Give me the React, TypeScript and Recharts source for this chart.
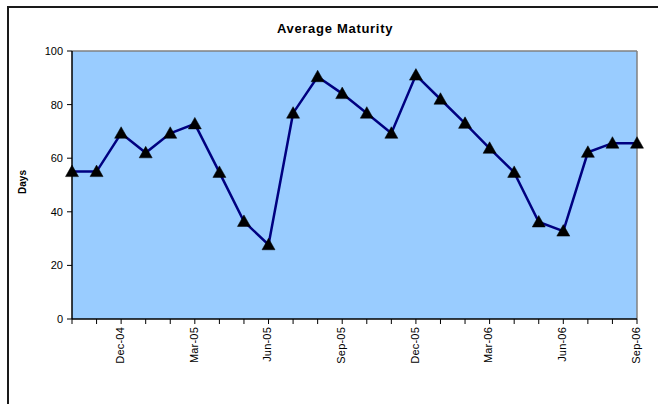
import React from 'react';
import { LineChart, Line, XAxis, YAxis, CartesianGrid, ReferenceLine } from 'recharts';

const months = [
  'Oct-04', 'Nov-04', 'Dec-04', 'Jan-05', 'Feb-05', 'Mar-05', 'Apr-05', 'May-05',
  'Jun-05', 'Jul-05', 'Aug-05', 'Sep-05', 'Oct-05', 'Nov-05', 'Dec-05', 'Jan-06',
  'Feb-06', 'Mar-06', 'Apr-06', 'May-06', 'Jun-06', 'Jul-06', 'Aug-06', 'Sep-06',
];
const maturityDays = [
  55, 55, 69.3, 62, 69.3, 72.8, 54.7, 36.4, 27.7, 76.8, 90.4, 84.1,
  76.8, 69.3, 91, 82, 73, 63.7, 54.7, 36.2, 32.8, 62.2, 65.6, 65.6,
];
const labeledMonths = ['Dec-04', 'Mar-05', 'Jun-05', 'Sep-05', 'Dec-05', 'Mar-06', 'Jun-06', 'Sep-06'];
const yTicks = [0, 20, 40, 60, 80, 100];

const data = months.map((m, i) => ({ month: m, days: maturityDays[i] }));

const FONT = 'Arial, "Liberation Sans", Helvetica, sans-serif';

const Triangle = (props: any) => {
  const { cx, cy, index } = props;
  if (cx == null || cy == null) return null;
  return (
    <path
      key={`tri-${index}`}
      d={`M${cx},${cy - 6.5} L${cx + 6.5},${cy + 5} L${cx - 6.5},${cy + 5} Z`}
      fill="#000"
      stroke="#000"
      strokeWidth={0.5}
    />
  );
};

const XTick = (props: any) => {
  const { x, y, payload } = props;
  const v = payload?.value;
  if (!labeledMonths.includes(v)) return <g />;
  return (
    <text
      x={x - 1}
      y={y + 1}
      transform={`rotate(-90, ${x - 1}, ${y + 1})`}
      textAnchor="end"
      dy="0.35em"
      fontSize={11}
      letterSpacing={0.2}
      fontFamily={FONT}
      fill="#000"
    >
      {v}
    </text>
  );
};

const YLabel = () => {
  const x = 22.5;
  const y = 182;
  return (
    <text
      x={x}
      y={y}
      transform={`rotate(-90, ${x}, ${y})`}
      textAnchor="middle"
      dy="0.35em"
      fontSize={10}
      fontWeight="bold"
      fontFamily={FONT}
      fill="#000"
    >
      Days
    </text>
  );
};

export default function App() {
  return (
    <div style={{ position: 'absolute', left: 0, top: 0, width: 658, height: 404, background: '#fff', overflow: 'hidden' }}>
      <div
        style={{
          position: 'absolute',
          left: 7,
          top: 6,
          width: 800,
          height: 600,
          borderLeft: '2px solid #1a1a1a',
          borderTop: '2px solid #1a1a1a',
          boxSizing: 'border-box',
        }}
      />
      <div
        style={{
          position: 'absolute',
          left: 0,
          width: 670,
          top: 21,
          textAlign: 'center',
          fontFamily: FONT,
          fontWeight: 'bold',
          fontSize: 13,
          letterSpacing: 0.7,
          lineHeight: '16px',
          color: '#000',
        }}
      >
        Average Maturity
      </div>
      <div style={{ position: 'absolute', left: 0, top: 0 }}>
        <LineChart width={658} height={404} data={data} margin={{ top: 51, right: 21, bottom: 0, left: 0 }}>
          <CartesianGrid horizontal={false} vertical={false} fill="#99CCFF" fillOpacity={1} stroke="none" />
          <ReferenceLine y={100} stroke="#808080" strokeWidth={1.5} ifOverflow="visible" />
          <ReferenceLine x="Sep-06" stroke="#808080" strokeWidth={1.5} ifOverflow="visible" />
          <XAxis
            dataKey="month"
            scale="point"
            interval={0}
            height={85}
            tick={<XTick />}
            tickSize={5}
            axisLine={{ stroke: '#000', strokeWidth: 1.5 }}
            tickLine={{ stroke: '#000', strokeWidth: 1 }}
            padding={{ left: 0, right: 0 }}
          />
          <YAxis
            domain={[0, 100]}
            ticks={yTicks}
            width={72}
            tickSize={5}
            tickMargin={4}
            interval={0}
            axisLine={{ stroke: '#000', strokeWidth: 1.5 }}
            tickLine={{ stroke: '#000', strokeWidth: 1 }}
            tick={{ fontSize: 11, fontFamily: FONT, fill: '#000' }}
            label={<YLabel />}
          />
          <Line
            type="linear"
            dataKey="days"
            stroke="#000080"
            strokeWidth={2.5}
            dot={<Triangle />}
            activeDot={false}
            isAnimationActive={false}
          />
        </LineChart>
      </div>
    </div>
  );
}
